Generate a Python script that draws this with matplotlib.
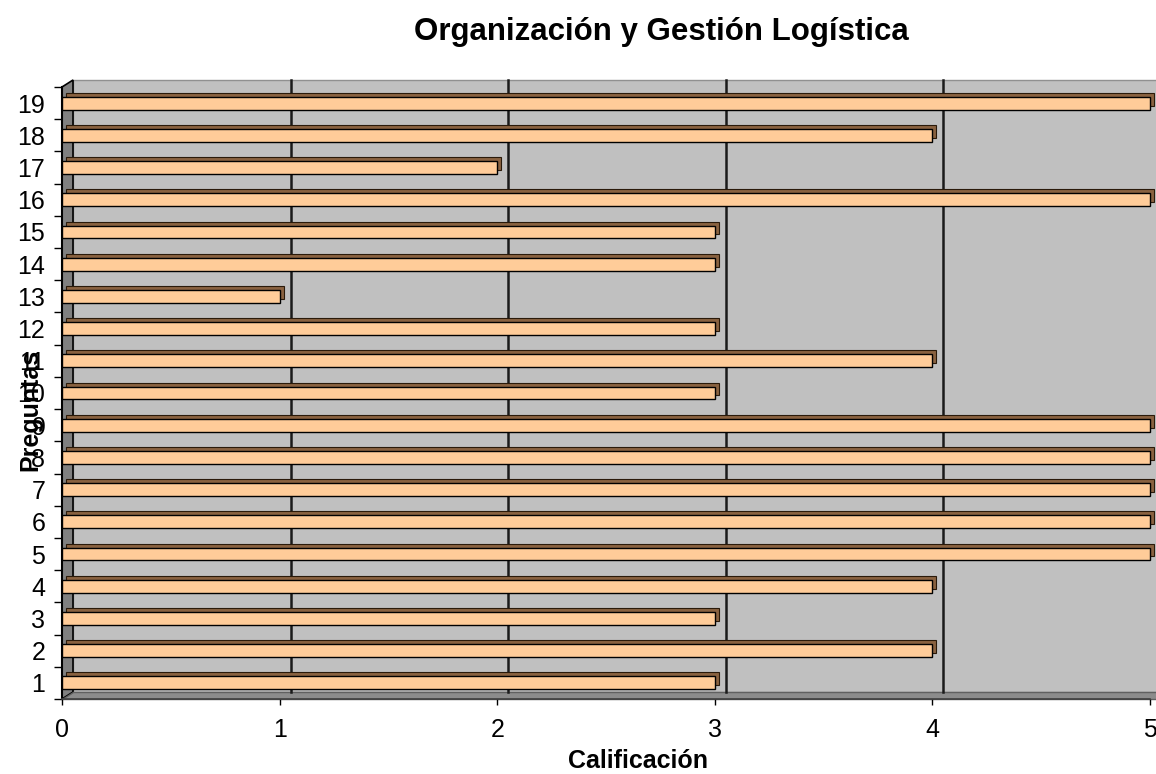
import numpy as np
import matplotlib.pyplot as plt
from matplotlib.patches import Polygon
from matplotlib.transforms import ScaledTranslation

plt.rcParams['font.family'] = ['Liberation Sans', 'DejaVu Sans']

# data
preguntas = list(range(1, 20))
calificacion = [3, 4, 3, 4, 5, 5, 5, 5, 5, 3, 4, 3, 1, 3, 3, 5, 2, 4, 5]
x_ticks = [0, 1, 2, 3, 4, 5]

W, H = 1156, 774
fig = plt.figure(figsize=(W / 100, H / 100), dpi=100)
ax = fig.add_axes([62 / W, 75 / H, 1088 / W, 612 / H])
ax.set_xlim(0, 5)
ax.set_ylim(0.5, 19.5)
ax.set_facecolor('none')

# depth offsets (pixels) for walls and for the bar extrusion
wall_dx, wall_dy = 11, 7
bar_dx, bar_dy = 4, 4
wall_shift = ScaledTranslation(wall_dx / 100, wall_dy / 100, fig.dpi_scale_trans)
bar_shift = ScaledTranslation(bar_dx / 100, bar_dy / 100, fig.dpi_scale_trans)

# walls in display pixels, drawn inside the axes behind the bars
(x0, y0), (x1, y1) = ax.transAxes.transform([[0, 0], [1, 1]])
back = Polygon([[x0 + wall_dx, y0 + wall_dy], [W + 20, y0 + wall_dy],
                [W + 20, y1 + wall_dy], [x0 + wall_dx, y1 + wall_dy]],
               closed=True, facecolor='#C0C0C0', edgecolor='#909090', lw=1,
               transform=None, zorder=0.1, clip_on=False)
left = Polygon([[x0, y0], [x0 + wall_dx, y0 + wall_dy],
                [x0 + wall_dx, y1 + wall_dy], [x0, y1]],
               closed=True, facecolor='#808080', edgecolor='black', lw=1.2,
               transform=None, zorder=0.2, clip_on=False)
floor = Polygon([[x0, y0], [W + 20, y0], [W + 20, y0 + wall_dy],
                 [x0 + wall_dx, y0 + wall_dy]],
                closed=True, facecolor='#8C8C8C', edgecolor='#606060', lw=1,
                transform=None, zorder=0.2, clip_on=False)
for p in (back, left, floor):
    ax.add_artist(p)

# gridlines on the back wall
for v in x_ticks[1:-1]:
    ax.plot([v, v], [0.5, 19.5], color='#1a1a1a', lw=1.8,
            transform=ax.transData + wall_shift, zorder=1, clip_on=False)

# bars: extruded part first, then front face
ax.barh(preguntas, calificacion, height=0.4, color='#8A6240', edgecolor='#2a1a0a',
        lw=0.8, transform=ax.transData + bar_shift, zorder=2, clip_on=False)
ax.barh(preguntas, calificacion, height=0.4, color='#FFCC99', edgecolor='black',
        lw=1.0, zorder=3, clip_on=False)

# axes styling
for s in ('top', 'right'):
    ax.spines[s].set_visible(False)
ax.spines['left'].set_color('black')
ax.spines['left'].set_linewidth(1.5)
ax.spines['bottom'].set_color('#404040')
ax.spines['bottom'].set_linewidth(1.2)

ax.set_xticks(x_ticks)
ax.set_xticklabels([str(t) for t in x_ticks], fontsize=18)
ax.set_yticks(preguntas)
ax.set_yticklabels([str(p) for p in preguntas], fontsize=18)
ax.set_yticks(np.arange(0.5, 20, 1), minor=True)
ax.tick_params(axis='y', which='major', length=0, pad=12)
ax.tick_params(axis='y', which='minor', length=6, width=1, color='black', direction='out')
ax.tick_params(axis='x', which='major', length=4, width=1, color='black', pad=10)

fig.text(661 / W, 1 - 32 / H, 'Organización y Gestión Logística', fontsize=22.5,
         fontweight='bold', ha='center', va='center')
fig.text(638 / W, 1 - 761 / H, 'Calificación', fontsize=18, fontweight='bold',
         ha='center', va='center')
fig.text(30 / W, 1 - 410 / H, 'Preguntas', fontsize=18, fontweight='bold',
         ha='center', va='center', rotation=90)

fig.savefig('out.png', dpi=100)
